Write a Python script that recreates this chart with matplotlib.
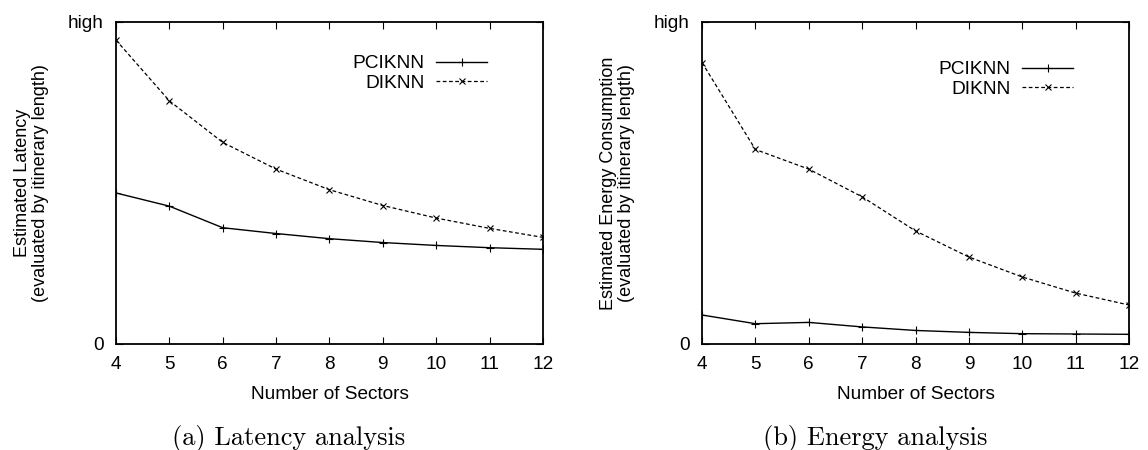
import matplotlib
matplotlib.use("Agg")
import matplotlib.pyplot as plt

# number of sectors on the x axis
sectors = [4, 5, 6, 7, 8, 9, 10, 11, 12]

# latency, as a fraction of "high"
lat_pciknn = [0.469, 0.428, 0.361, 0.343, 0.327, 0.315, 0.306, 0.299, 0.294]
lat_diknn = [0.944, 0.755, 0.626, 0.543, 0.479, 0.430, 0.391, 0.359, 0.331]

# energy, as a fraction of "high"
en_pciknn = [0.090, 0.063, 0.067, 0.053, 0.042, 0.036, 0.032, 0.031, 0.030]
en_diknn = [0.874, 0.604, 0.543, 0.457, 0.351, 0.270, 0.208, 0.158, 0.121]

ytick_labels = ["0", "high"]

plt.rcParams["font.family"] = ["Liberation Sans", "DejaVu Sans"]

fig = plt.figure(figsize=(11.48, 4.5), dpi=100)

panels = [
    (0.1010, lat_pciknn, lat_diknn,
     "Estimated Latency\n(evaluated by itinerary length)",
     "(a) Latency analysis", (0.869, 0.898)),
    (0.6115, en_pciknn, en_diknn,
     "Estimated Energy Consumption\n(evaluated by itinerary length)",
     "(b) Energy analysis", (0.869, 0.879)),
]

for left, pc, di, ylab, caption, leg_pos in panels:
    ax = fig.add_axes([left, 0.2356, 0.3720, 0.7156])
    ax.plot(sectors, pc, color="black", lw=1.0, marker="+", ms=5.5, mew=0.8,
            label="PCIKNN")
    ax.plot(sectors, di, color="black", lw=0.9, ls=(0, (3, 2)), marker="x",
            ms=4.5, mew=0.8, label="DIKNN")
    ax.set_xlim(4, 12)
    ax.set_ylim(0, 1)
    ax.set_xticks(sectors)
    ax.set_yticks([0, 1])
    ax.set_yticklabels(ytick_labels)
    ax.tick_params(axis="both", direction="in", top=True, right=True,
                   labelsize=13.7, length=5, width=0.8)
    ax.tick_params(axis="x", pad=9)
    ax.tick_params(axis="y", pad=9)
    for s in ax.spines.values():
        s.set_linewidth(1.3)
    ax.set_xlabel("Number of Sectors", fontsize=13.7, labelpad=9)
    ax.set_ylabel(ylab, fontsize=13, linespacing=1.05)
    ax.yaxis.set_label_coords(-0.157, 0.5)
    ax.legend(loc="upper right", bbox_to_anchor=leg_pos, frameon=False,
              markerfirst=False, fontsize=13.8, handlelength=2.66,
              labelspacing=0.1, handletextpad=0.62, borderpad=0,
              borderaxespad=0)
    ax.text(0.405, -0.292, caption, transform=ax.transAxes, ha="center",
            va="center", fontsize=19, family="cmr10")

fig.savefig("out.png", dpi=100)
